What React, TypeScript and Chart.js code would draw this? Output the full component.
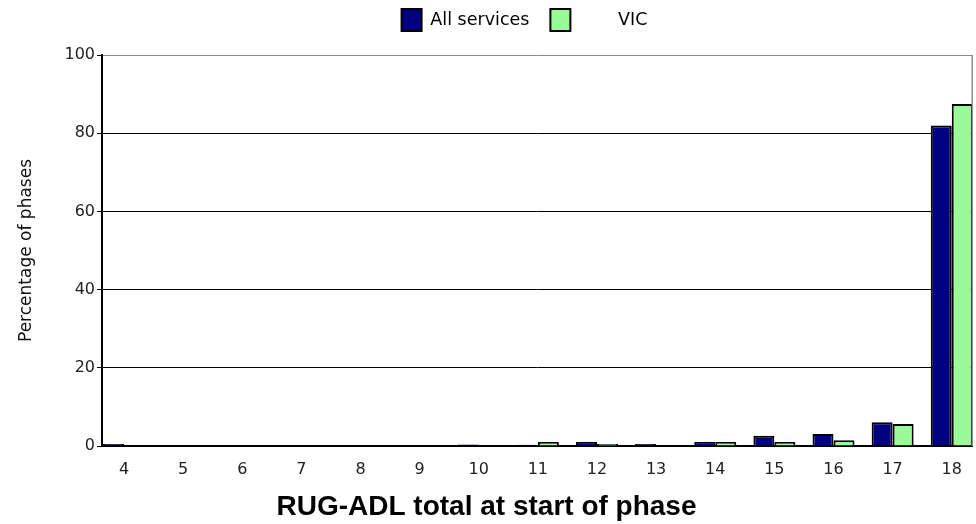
import React, { useEffect, useRef } from "react";
import { Chart, registerables } from "chart.js";

Chart.register(...registerables);

const categories = [4, 5, 6, 7, 8, 9, 10, 11, 12, 13, 14, 15, 16, 17, 18];
const allServices = [0.5, 0, 0, 0, 0, 0, 0.4, 0.3, 1.0, 0.5, 1.0, 2.6, 3.1, 6.1, 82];
const vic = [0, 0, 0, 0, 0, 0, 0, 1.0, 0.5, 0, 1.0, 1.0, 1.5, 5.6, 87.5];
const yTicks = [0, 20, 40, 60, 80, 100];
const seriesNames = ["All services", "       VIC"];
const xTitle = "RUG-ADL total at start of phase";
const yTitle = "Percentage of phases";

const frameLine = {
  id: "frameLine",
  afterDatasetsDraw(chart: any) {
    const { ctx, chartArea } = chart;
    ctx.save();
    ctx.strokeStyle = "#8a8a8a";
    ctx.lineWidth = 1.5;
    ctx.beginPath();
    ctx.moveTo(chartArea.right, chartArea.top);
    ctx.lineTo(chartArea.right, chartArea.bottom);
    ctx.stroke();
    ctx.restore();
  },
};

const legendShift = {
  id: "legendShift",
  afterLayout(chart: any) {
    const l = chart.legend;
    if (!l) return;
    l.left += 38;
    l.right += 38;
    l.top -= 14;
    l.bottom -= 14;
  },
};

export default function App() {
  const ref = useRef<HTMLCanvasElement | null>(null);
  useEffect(() => {
    if (!ref.current) return;
    const chart = new Chart(ref.current, {
      type: "bar",
      data: {
        datasets: [
          {
            label: seriesNames[0],
            data: categories.map((c, i) => ({ x: c, y: allServices[i] })),
            backgroundColor: "#000080",
            borderColor: "#000000",
            borderWidth: 2,
          },
          {
            label: seriesNames[1],
            data: categories.map((c, i) => ({ x: c, y: vic[i] })),
            backgroundColor: "#98fb98",
            borderColor: "#000000",
            borderWidth: 2,
          },
        ],
      },
      options: {
        animation: false,
        responsive: true,
        maintainAspectRatio: false,
        layout: { padding: { top: 2, right: 3, left: 0, bottom: 0 } },
        datasets: { bar: { categoryPercentage: 0.71, barPercentage: 1 } } as any,
        plugins: {
          legend: {
            position: "top",
            labels: {
              boxWidth: 20,
              boxHeight: 22,
              padding: 21,
              color: "#000",
              font: { family: "DejaVu Sans", size: 17.5 },
            },
          },
          title: {
            display: true,
            position: "bottom",
            text: xTitle,
            color: "#000",
            font: { family: "Liberation Sans", size: 28, weight: "bold" },
            padding: { top: 0, bottom: 0 },
          },
          tooltip: { enabled: false },
        },
        scales: {
          x: {
            type: "linear",
            min: 3.628,
            max: 18.346,
            offset: false,
            grid: { display: false, drawTicks: false },
            border: { display: true, color: "#000", width: 2 },
            afterBuildTicks: (s: any) => {
              s.ticks = categories.map((v) => ({ value: v }));
            },
            afterFit: (s: any) => {
              s.height = 44.4;
            },
            ticks: {
              autoSkip: false,
              maxRotation: 0,
              padding: 14,
              color: "#222",
              font: { family: "DejaVu Sans", size: 16 },
            },
          },
          y: {
            min: 0,
            max: 100,
            afterBuildTicks: (s: any) => {
              s.ticks = yTicks.map((v) => ({ value: v }));
            },
            afterFit: (s: any) => {
              s.width = 102;
            },
            grid: {
              color: (c: any) => (c.tick && c.tick.value === 100 ? "#8a8a8a" : "#000"),
              lineWidth: 1,
              tickLength: 5,
              tickColor: "#000",
            },
            border: { display: true, color: "#000", width: 2 },
            ticks: {
              padding: 2,
              color: "#222",
              font: { family: "DejaVu Sans", size: 16 },
            },
            title: {
              display: true,
              text: yTitle,
              color: "#111",
              font: { family: "DejaVu Sans", size: 17 },
              padding: { top: 16, bottom: 0 },
            },
          },
        },
      },
      plugins: [frameLine, legendShift],
    });
    return () => chart.destroy();
  }, []);
  return (
    <div style={{ position: "absolute", left: 0, top: 0, width: 976, height: 524 }}>
      <canvas ref={ref} />
    </div>
  );
}
